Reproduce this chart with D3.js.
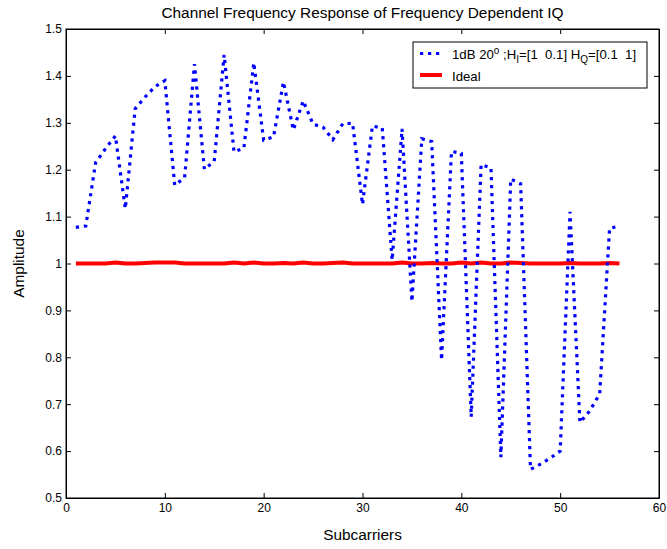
<!DOCTYPE html>
<html>
<head>
<meta charset="utf-8">
<script src="https://cdn.jsdelivr.net/npm/d3@7/dist/d3.min.js"></script>
<style>
  html, body { margin: 0; padding: 0; background: #fff; }
  svg { display: block; font-family: "Liberation Sans", Arial, sans-serif; }
</style>
</head>
<body>
<svg id="chart" width="667" height="549"></svg>
<script>
// Subcarrier indices
const subcarriers = d3.range(1, 57);

// Amplitude response with frequency-dependent IQ imbalance
const iqResponse = [
  1.077, 1.080, 1.215, 1.245, 1.272, 1.117, 1.330, 1.355, 1.377, 1.390,
  1.167, 1.183, 1.425, 1.201, 1.218, 1.445, 1.238, 1.246, 1.428, 1.263,
  1.270, 1.387, 1.285, 1.347, 1.297, 1.291, 1.264, 1.298, 1.299, 1.126,
  1.293, 1.289, 1.007, 1.287, 0.919, 1.266, 1.260, 0.794, 1.239, 1.235,
  0.673, 1.211, 1.204, 0.587, 1.180, 1.170, 0.561, 0.572, 0.585, 0.600,
  1.110, 0.661, 0.686, 0.722, 1.075, 1.080
];

// Ideal (flat) response
const idealResponse = [
  1.000, 1.000, 1.000, 1.000, 1.002, 1.000, 1.000, 1.001, 1.002, 1.002,
  1.002, 1.000, 1.000, 1.000, 1.000, 1.000, 1.002, 1.000, 1.002, 1.000,
  1.000, 1.001, 1.000, 1.002, 1.000, 1.000, 1.001, 1.002, 1.000, 1.000,
  1.000, 1.000, 1.000, 1.002, 1.000, 1.000, 1.001, 1.000, 1.000, 1.002,
  1.000, 1.002, 1.000, 1.000, 1.002, 1.001, 1.000, 1.000, 1.000, 1.000,
  1.001, 1.000, 1.000, 1.000, 1.001, 1.000
];

const xTicks = [0, 10, 20, 30, 40, 50, 60];
const yTicks = [0.5, 0.6, 0.7, 0.8, 0.9, 1.0, 1.1, 1.2, 1.3, 1.4, 1.5];
const yTickLabels = ["0.5", "0.6", "0.7", "0.8", "0.9", "1", "1.1", "1.2", "1.3", "1.4", "1.5"];

const W = 667, H = 549;
const margin = { top: 29, right: 8, bottom: 51, left: 66 };
const iw = W - margin.left - margin.right;
const ih = H - margin.top - margin.bottom;

const svg = d3.select("#chart");
const g = svg.append("g").attr("transform", `translate(${margin.left},${margin.top})`);

const x = d3.scaleLinear().domain([0, 60]).range([0, iw]);
const y = d3.scaleLinear().domain([0.5, 1.5]).range([ih, 0]);

// Frame
g.append("rect")
  .attr("x", 0).attr("y", 0).attr("width", iw).attr("height", ih)
  .attr("fill", "#fff").attr("stroke", "#000").attr("stroke-width", 1);

const tickLen = 5;

// Bottom axis (ticks point inward)
const xAxis = d3.axisBottom(x).tickValues(xTicks).tickSizeInner(-tickLen).tickSizeOuter(0).tickPadding(5).tickFormat(d3.format("d"));
const gx = g.append("g").attr("transform", `translate(0,${ih})`).call(xAxis);
// Top mirror ticks
const gxt = g.append("g").call(d3.axisTop(x).tickValues(xTicks).tickSizeInner(-tickLen).tickSizeOuter(0).tickFormat(""));

// Left axis
const yAxis = d3.axisLeft(y).tickValues(yTicks).tickSizeInner(-tickLen).tickSizeOuter(0).tickPadding(4)
  .tickFormat((d, i) => yTickLabels[i]);
const gy = g.append("g").call(yAxis);
// Right mirror ticks
const gyr = g.append("g").attr("transform", `translate(${iw},0)`)
  .call(d3.axisRight(y).tickValues(yTicks).tickSizeInner(-tickLen).tickSizeOuter(0).tickFormat(""));

[gx, gxt, gy, gyr].forEach(a => {
  a.select(".domain").attr("stroke", "#000").attr("stroke-width", 1);
  a.selectAll(".tick line").attr("stroke", "#000").attr("stroke-width", 1);
  a.selectAll(".tick text").attr("fill", "#000").style("font-size", "12px")
    .style("font-family", "'Liberation Sans', Arial, sans-serif");
});

// Series lines
const line = d3.line()
  .x((d, i) => x(subcarriers[i]))
  .y(d => y(d));

g.append("path")
  .datum(idealResponse)
  .attr("fill", "none")
  .attr("stroke", "#ff0000")
  .attr("stroke-width", 4)
  .attr("stroke-linejoin", "round")
  .attr("d", line);

g.append("path")
  .datum(iqResponse)
  .attr("fill", "none")
  .attr("stroke", "#0000ff")
  .attr("stroke-width", 3.2)
  .attr("stroke-dasharray", "3.2,4.8")
  .attr("stroke-linejoin", "miter")
  .attr("d", line);

// Title and axis labels
svg.append("text")
  .attr("x", margin.left + iw / 2).attr("y", 18)
  .attr("text-anchor", "middle")
  .style("font-size", "15.4px")
  .text("Channel Frequency Response of Frequency Dependent IQ");

svg.append("text")
  .attr("x", margin.left + iw / 2).attr("y", 540)
  .attr("text-anchor", "middle")
  .style("font-size", "15.4px")
  .text("Subcarriers");

svg.append("text")
  .attr("transform", `translate(24,${margin.top + ih / 2}) rotate(-90)`)
  .attr("text-anchor", "middle")
  .style("font-size", "15.4px")
  .text("Amplitude");

// Legend
const leg = svg.append("g").attr("transform", "translate(413,42)");
leg.append("rect")
  .attr("width", 234).attr("height", 46)
  .attr("fill", "#fff").attr("stroke", "#000").attr("stroke-width", 1);

leg.append("line")
  .attr("x1", 7).attr("x2", 29).attr("y1", 11.5).attr("y2", 11.5)
  .attr("stroke", "#0000ff").attr("stroke-width", 3.2).attr("stroke-dasharray", "3.2,4.8");
leg.append("line")
  .attr("x1", 7).attr("x2", 29).attr("y1", 33).attr("y2", 33)
  .attr("stroke", "#ff0000").attr("stroke-width", 4);

const t1 = leg.append("text").attr("x", 39).attr("y", 16.5).style("font-size", "13.2px")
  .attr("xml:space", "preserve").style("white-space", "pre");
t1.append("tspan").text("1dB 20");
t1.append("tspan").attr("dy", -5).style("font-size", "10px").text("o");
t1.append("tspan").attr("dy", 5).text(" ;H");
t1.append("tspan").attr("dy", 4).style("font-size", "10px").text("I");
t1.append("tspan").attr("dy", -4).text("=[1  0.1] H");
t1.append("tspan").attr("dy", 4).style("font-size", "10px").text("Q");
t1.append("tspan").attr("dy", -4).text("=[0.1  1]");

leg.append("text").attr("x", 39).attr("y", 38.5).style("font-size", "13.2px").text("Ideal");
</script>
</body>
</html>
